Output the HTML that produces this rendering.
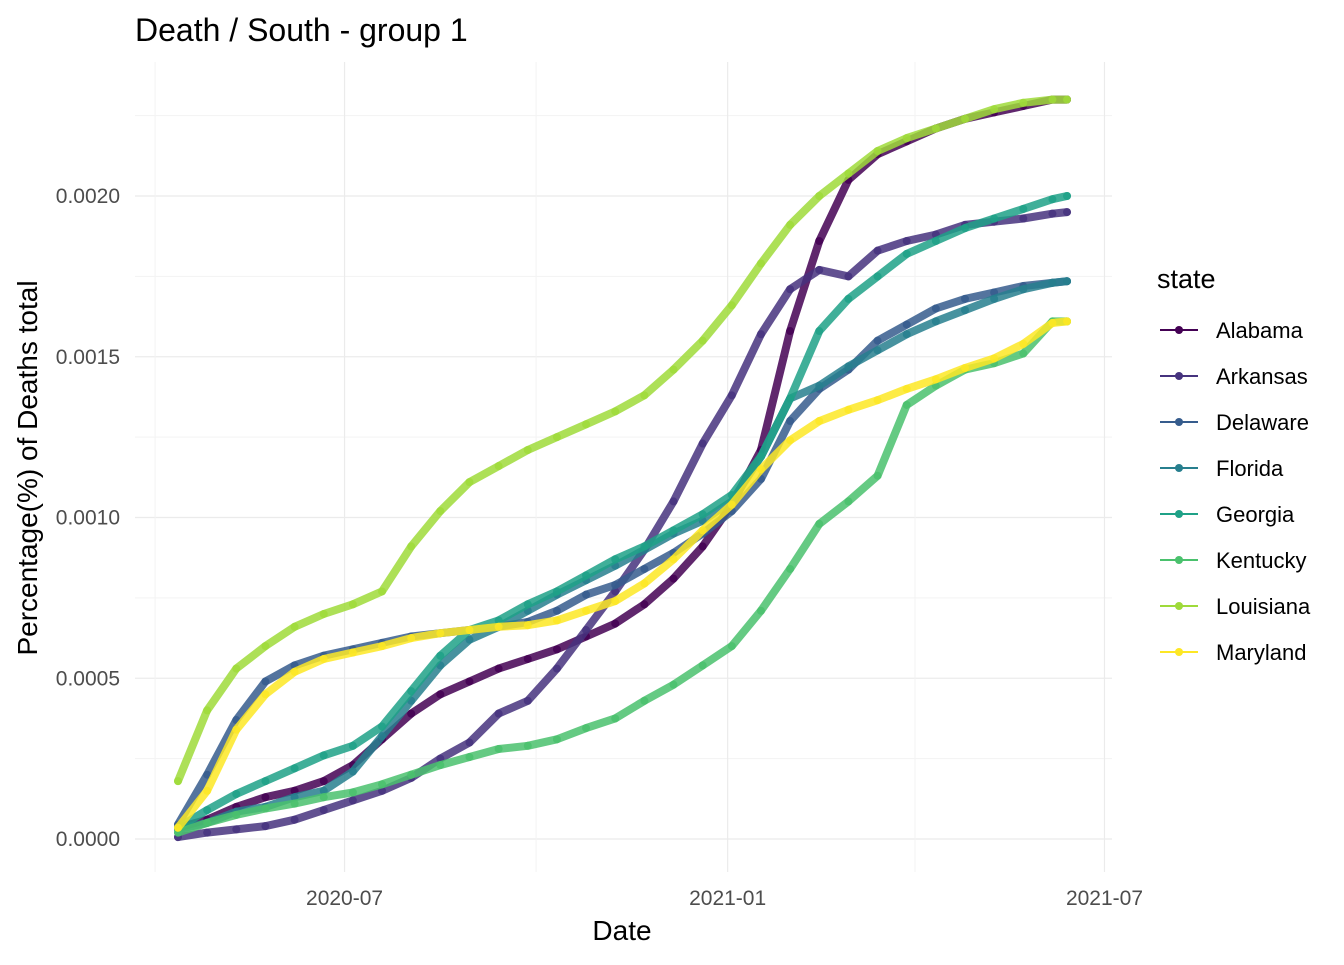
<!DOCTYPE html>
<html><head><meta charset="utf-8"><style>
body{margin:0;background:#fff;}
svg text{font-family:"Liberation Sans",Arial,sans-serif;}
</style></head><body>
<svg id="chart" width="1344" height="960" viewBox="0 0 1344 960" xmlns="http://www.w3.org/2000/svg">
<text x="135" y="41" font-size="32" fill="#000">Death / South - group 1</text>
<g id="grid"></g>
<g id="series"></g>
<g id="axes"></g>
<text x="622" y="940" font-size="28" text-anchor="middle" fill="#000">Date</text>
<text transform="translate(37,468) rotate(-90)" font-size="28" text-anchor="middle" fill="#000">Percentage(%) of Deaths total</text>
<g id="legend"></g>
</svg>
<script>
// day offsets from 2020-04-12
const days = [0,14,28,42,56,70,84,98,112,126,140,154,168,182,196,210,224,238,252,266,280,294,308,322,336,350,364,378,392,406,420,427];
const states = ["Alabama","Arkansas","Delaware","Florida","Georgia","Kentucky","Louisiana","Maryland"];
const colors = ["#440154","#46337E","#365C8D","#277F8E","#1FA187","#4AC16D","#9FDA3A","#FDE725"];
// values in units of 1e-4 (i.e. value*10000)
const alabama = [0.35,0.6,1.0,1.3,1.5,1.8,2.3,3.1,3.9,4.5,4.9,5.3,5.6,5.9,6.3,6.7,7.3,8.1,9.1,10.4,12.1,15.8,18.6,20.5,21.3,21.7,22.1,22.4,22.6,22.8,23.0,23.0];
const arkansas = [0.06,0.2,0.3,0.4,0.6,0.9,1.2,1.5,1.9,2.5,3.0,3.9,4.3,5.3,6.5,7.7,9.0,10.5,12.3,13.8,15.7,17.1,17.7,17.5,18.3,18.6,18.8,19.1,19.2,19.3,19.45,19.5];
const delaware = [0.45,2.0,3.7,4.9,5.4,5.7,5.9,6.1,6.3,6.4,6.5,6.6,6.75,7.1,7.6,7.9,8.4,8.9,9.5,10.2,11.2,13.0,14.0,14.6,15.5,16.0,16.5,16.8,17.0,17.2,17.3,17.35];
const florida = [0.3,0.5,0.85,1.0,1.3,1.5,2.1,3.2,4.3,5.4,6.2,6.6,7.1,7.6,8.05,8.5,9.0,9.5,9.9,10.5,11.9,13.7,14.1,14.7,15.2,15.7,16.1,16.45,16.8,17.1,17.3,17.35];
const georgia = [0.35,0.9,1.4,1.8,2.2,2.6,2.9,3.5,4.6,5.7,6.5,6.8,7.3,7.7,8.2,8.7,9.1,9.6,10.1,10.7,11.9,13.7,15.8,16.8,17.5,18.2,18.6,19.0,19.3,19.6,19.9,20.0];
const kentucky = [0.2,0.5,0.75,0.95,1.1,1.3,1.45,1.7,2.0,2.3,2.55,2.8,2.9,3.1,3.45,3.75,4.3,4.8,5.4,6.0,7.1,8.4,9.8,10.5,11.3,13.5,14.1,14.6,14.8,15.1,16.1,16.1];
const louisiana = [1.8,4.0,5.3,6.0,6.6,7.0,7.3,7.7,9.1,10.2,11.1,11.6,12.1,12.5,12.9,13.3,13.8,14.6,15.5,16.6,17.9,19.1,20.0,20.7,21.4,21.8,22.1,22.4,22.7,22.9,23.0,23.0];
const maryland = [0.35,1.5,3.4,4.5,5.2,5.6,5.8,6.0,6.25,6.4,6.5,6.6,6.65,6.8,7.1,7.4,7.95,8.7,9.6,10.4,11.5,12.4,13.0,13.35,13.65,14.0,14.3,14.65,14.95,15.4,16.05,16.1];
const seriesVals = [alabama,arkansas,delaware,florida,georgia,kentucky,louisiana,maryland];
const yTicks = [0,5,10,15,20];
const yTickLabels = ["0.0000","0.0005","0.0010","0.0015","0.0020"];
const xTickDays = [80,264,445]; // 2020-07-01, 2021-01-01, 2021-07-01
const xTickLabels = ["2020-07","2021-01","2021-07"];
const xMinorDays = [-11,172,354];

const NS="http://www.w3.org/2000/svg";
const xs = d => 178 + d*2.082;
const ys = v => 839 - v*32.15;
function mk(tag, attrs, parent){const e=document.createElementNS(NS,tag);for(const k in attrs)e.setAttribute(k,attrs[k]);parent.appendChild(e);return e;}
const grid=document.getElementById('grid'), axes=document.getElementById('axes'), ser=document.getElementById('series'), leg=document.getElementById('legend');

yTicks.forEach((t,i)=>{
  const l=mk('line',{x1:135,x2:1112,y1:ys(t),y2:ys(t),stroke:'#ebebeb','stroke-width':1.2},grid);
  
  
  const m=mk('line',{x1:135,x2:1112,y1:ys(t+2.5),y2:ys(t+2.5),stroke:'#f3f3f3','stroke-width':1},grid);
  
  
  const tx=mk('text',{x:120,y:ys(t)+7,'font-size':21,'text-anchor':'end',fill:'#4d4d4d'},axes);
  tx.textContent=yTickLabels[i];
  
  
});
xMinorDays.forEach(d=>{
  const m=mk('line',{x1:xs(d),x2:xs(d),y1:62,y2:872,stroke:'#f3f3f3','stroke-width':1},grid);
  
  
});
xTickDays.forEach((d,i)=>{
  const l=mk('line',{x1:xs(d),x2:xs(d),y1:62,y2:872,stroke:'#ebebeb','stroke-width':1.2},grid);
  
  
  const tx=mk('text',{x:xs(d),y:905,'font-size':21,'text-anchor':'middle',fill:'#4d4d4d'},axes);
  tx.textContent=xTickLabels[i];
  
  
});

seriesVals.forEach((vals,si)=>{
  const g=mk('g',{},ser);
  
  
  const pts=vals.map((v,i)=>xs(days[i]).toFixed(1)+','+ys(v).toFixed(1)).join(' ');
  const pl=mk('polyline',{points:pts,fill:'none',stroke:colors[si],'stroke-width':8,'stroke-linejoin':'round','stroke-linecap':'round','stroke-opacity':0.85},g);
  
  
  vals.forEach((v,i)=>{
    const c=mk('circle',{cx:xs(days[i]),cy:ys(v),r:4,fill:colors[si],'fill-opacity':0.85},g);
    
    
  });
});

const lt=mk('text',{x:1157,y:288,'font-size':27,fill:'#000'},leg);
lt.textContent='state';


states.forEach((s,i)=>{
  const y=330+46*i;
  const g=mk('g',{},leg);
  
  
  mk('line',{x1:1160,x2:1198,y1:y,y2:y,stroke:colors[i],'stroke-width':2},g);
  mk('circle',{cx:1179,cy:y,r:4,fill:colors[i]},g);
  const t=mk('text',{x:1216,y:y+8,'font-size':22,fill:'#000'},g);
  t.textContent=s;
});
</script>
</body></html>
